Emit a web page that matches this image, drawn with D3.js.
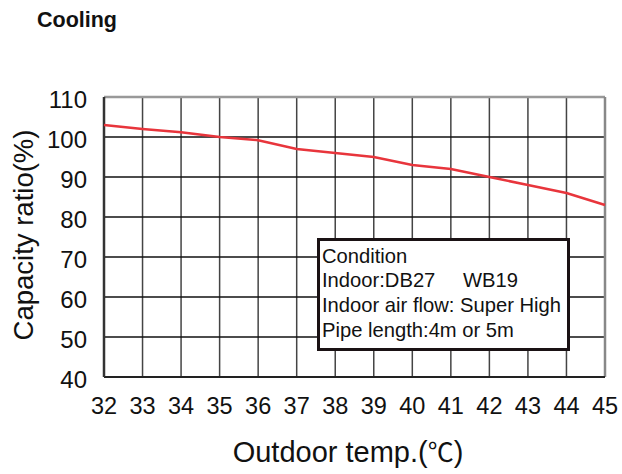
<!DOCTYPE html>
<html><head><meta charset="utf-8">
<script src="https://cdn.jsdelivr.net/npm/d3@7"></script>
<style>body{margin:0;background:#fff}svg{display:block}text{font-family:"Liberation Sans",Arial,sans-serif;fill:#111}</style>
</head><body><svg id="c" width="622" height="474"></svg>
<script>
const temps = [32,33,34,35,36,37,38,39,40,41,42,43,44,45];
const capacity = [103,102,101.2,100,99.2,97,96,95,93,92,90,88,86,83];
const yTicks = [40,50,60,70,80,90,100,110];
const conditionLines = ["Condition","Indoor:DB27","Indoor air flow: Super High","Pipe length:4m or 5m"];

const svg = d3.select("#c");
const L=104,R=605,T=97,B=377;
const x = d3.scaleLinear().domain([32,45]).range([L,R]);
const y = d3.scaleLinear().domain([40,110]).range([B,T]);

svg.append("text").attr("x",37).attr("y",27).attr("font-size",21.5).attr("font-weight","bold").text("Cooling");

// grid
svg.append("g").selectAll("line").data(temps.slice(1,-1)).join("line")
 .attr("x1",d=>x(d)).attr("x2",d=>x(d)).attr("y1",T).attr("y2",B)
 .attr("stroke","#444").attr("stroke-width",1.5);
svg.append("g").selectAll("line").data(yTicks.slice(1,-1)).join("line")
 .attr("x1",L).attr("x2",R).attr("y1",d=>y(d)).attr("y2",d=>y(d))
 .attr("stroke","#111").attr("stroke-width",1.5);
// border
svg.append("line").attr("x1",L).attr("x2",R).attr("y1",T).attr("y2",T).attr("stroke","#999").attr("stroke-width",2.5);
svg.append("line").attr("x1",R).attr("x2",R).attr("y1",T).attr("y2",B).attr("stroke","#888").attr("stroke-width",2.5);
svg.append("line").attr("x1",L).attr("x2",R).attr("y1",B).attr("y2",B).attr("stroke","#222").attr("stroke-width",2);
svg.append("line").attr("x1",L).attr("x2",L).attr("y1",T).attr("y2",B).attr("stroke","#333").attr("stroke-width",2.5);

// line
svg.append("path").datum(temps.map((t,i)=>[t,capacity[i]]))
 .attr("d",d3.line().x(d=>x(d[0])).y(d=>y(d[1])))
 .attr("fill","none").attr("stroke","#e8353c").attr("stroke-width",2.5);

// y labels
svg.append("g").selectAll("text").data(yTicks).join("text")
 .attr("x",87).attr("y",d=>y(d)+11).attr("text-anchor","end").attr("font-size",24).text(d=>d);
// x labels
svg.append("g").selectAll("text").data(temps).join("text")
 .attr("x",d=>x(d)).attr("y",414).attr("text-anchor","middle").attr("font-size",23.5).text(d=>d);

const xt = svg.append("text").attr("x",348).attr("y",462).attr("text-anchor","middle").attr("font-size",29);
xt.append("tspan").text("Outdoor temp.(");
xt.append("tspan").style("font-family","'Noto Sans CJK JP'").attr("font-size",26).text("℃");
xt.append("tspan").text(")");
svg.append("text").attr("transform","translate(33,235) rotate(-90)").attr("text-anchor","middle").attr("font-size",27.5).text("Capacity ratio(%)");

// condition box
svg.append("rect").attr("x",318.5).attr("y",239.5).attr("width",250).attr("height",110)
 .attr("fill","#fff").attr("stroke","#1a1214").attr("stroke-width",3);
svg.append("g").selectAll("text").data(conditionLines).join("text")
 .attr("x",322).attr("y",(d,i)=>262.5+i*24.8).attr("font-size",20.2).text(d=>d);
svg.append("text").attr("x",463).attr("y",262.5+24.8).attr("font-size",20.2).text("WB19");
</script></body></html>
